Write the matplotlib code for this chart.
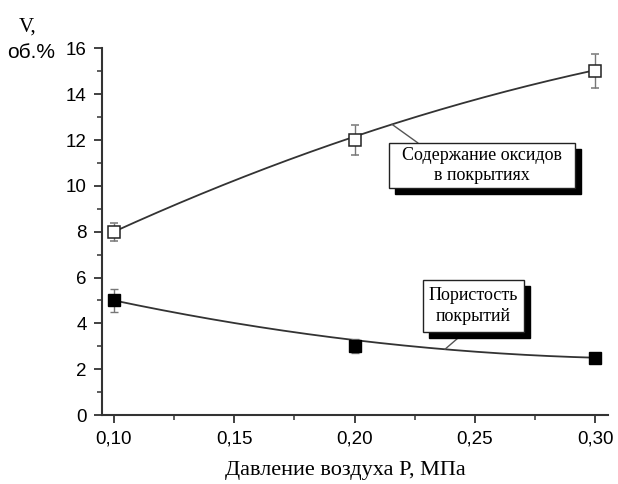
import numpy as np
import matplotlib
matplotlib.use("Agg")
import matplotlib.pyplot as plt
from matplotlib.patches import Rectangle
from matplotlib.ticker import MultipleLocator, FuncFormatter

# Data
pressure = [0.10, 0.20, 0.30]
oxides = [8.0, 12.0, 15.0]
oxides_err = [0.4, 0.65, 0.75]
porosity = [5.0, 3.0, 2.5]
porosity_err = [0.5, 0.3, 0.2]
oxides_curve_y = [8.0, 12.15, 15.05]    # smooth fit curve drawn by the original
porosity_curve_y = [5.0, 3.27, 2.5]     # smooth fit curve drawn by the original

label_oxides = "Содержание оксидов\nв покрытиях"
label_poro = "Пористость\nпокрытий"
xlabel = "Давление воздуха P, МПа"

W, H = 618, 484
fig = plt.figure(figsize=(W / 100, H / 100), dpi=100)
ax = fig.add_axes([102 / W, 1 - 415 / H, (608 - 102) / W, (415 - 48.4) / H])

serif = ["Liberation Serif", "DejaVu Serif"]
sans = ["Liberation Sans", "DejaVu Sans"]

xs = np.linspace(0.10, 0.30, 200)
p_ox = np.polyfit(pressure, oxides_curve_y, 2)
p_po = np.polyfit(pressure, porosity_curve_y, 2)
ax.plot(xs, np.polyval(p_ox, xs), color="#333333", lw=1.3, zorder=2)
ax.plot(xs, np.polyval(p_po, xs), color="#333333", lw=1.3, zorder=2)

ax.errorbar(pressure, oxides, yerr=oxides_err, fmt="s", ms=8, mfc="white",
            mec="#222222", mew=1.1, ecolor="#777777", elinewidth=1.0,
            capsize=3, zorder=3)
ax.errorbar(pressure, porosity, yerr=porosity_err, fmt="s", ms=8, mfc="black",
            mec="black", ecolor="#777777", elinewidth=1.0, capsize=3, zorder=3)

ax.set_xlim(0.1 - 12 / 2405, 0.3 + 13 / 2405)
ax.set_ylim(0, 16)
ax.xaxis.set_major_locator(MultipleLocator(0.05))
ax.xaxis.set_minor_locator(MultipleLocator(0.025))
ax.yaxis.set_major_locator(MultipleLocator(2))
ax.yaxis.set_minor_locator(MultipleLocator(1))
ax.xaxis.set_major_formatter(FuncFormatter(lambda v, p: f"{v:.2f}".replace(".", ",")))
ax.yaxis.set_major_formatter(FuncFormatter(lambda v, p: f"{v:.0f}"))
for s in ["top", "right"]:
    ax.spines[s].set_visible(False)
for s in ["left", "bottom"]:
    ax.spines[s].set_linewidth(1.5)
    ax.spines[s].set_color("#333333")
ax.tick_params(which="major", direction="out", length=6, width=1.3, colors="#333333",
               labelsize=13.5, labelcolor="black", pad=5)
ax.tick_params(which="minor", direction="out", length=3.5, width=1.1, colors="#333333")
for lab in ax.get_xticklabels() + ax.get_yticklabels():
    lab.set_family(sans)

fig.text(345 / W, 1 - 470 / H, xlabel, ha="center", va="center", fontsize=16,
         family=serif)
fig.text(28 / W, 1 - 27 / H, "V,", ha="center", va="center", fontsize=15, family=serif)
fig.text(31 / W, 1 - 53 / H, "об.%", ha="center", va="center", fontsize=15, family=sans)

def shadow_box(x0, y0, x1, y1, text, off=6):
    # pixel coordinates, y measured from top
    fx, fy = x0 / W, 1 - y1 / H
    fw, fh = (x1 - x0) / W, (y1 - y0) / H
    fig.patches.append(Rectangle((fx + off / W, fy - off / H), fw, fh,
                                 transform=fig.transFigure, facecolor="black",
                                 edgecolor="black", zorder=5))
    fig.patches.append(Rectangle((fx, fy), fw, fh, transform=fig.transFigure,
                                 facecolor="white", edgecolor="#222222", lw=1.0,
                                 zorder=6))
    fig.text((x0 + x1) / 2 / W, 1 - (y0 + y1) / 2 / H, text, ha="center",
             va="center", fontsize=13, family=serif, zorder=7, linespacing=1.3)

# leader lines
x_ox = 0.2156
ax.annotate("", xy=(x_ox, np.polyval(p_ox, x_ox)), xycoords="data",
            xytext=(418 / W, 1 - 143 / H), textcoords="figure fraction",
            arrowprops=dict(arrowstyle="-", color="#555555", lw=1.0,
                            shrinkA=0, shrinkB=0))
x_po = 0.2376
ax.annotate("", xy=(x_po, np.polyval(p_po, x_po)), xycoords="data",
            xytext=(465 / W, 1 - 332 / H), textcoords="figure fraction",
            arrowprops=dict(arrowstyle="-", color="#555555", lw=1.0,
                            shrinkA=0, shrinkB=0))

shadow_box(389, 143, 575, 188, label_oxides)
shadow_box(423, 280, 524, 332, label_poro)

fig.savefig("out.png", dpi=100)
